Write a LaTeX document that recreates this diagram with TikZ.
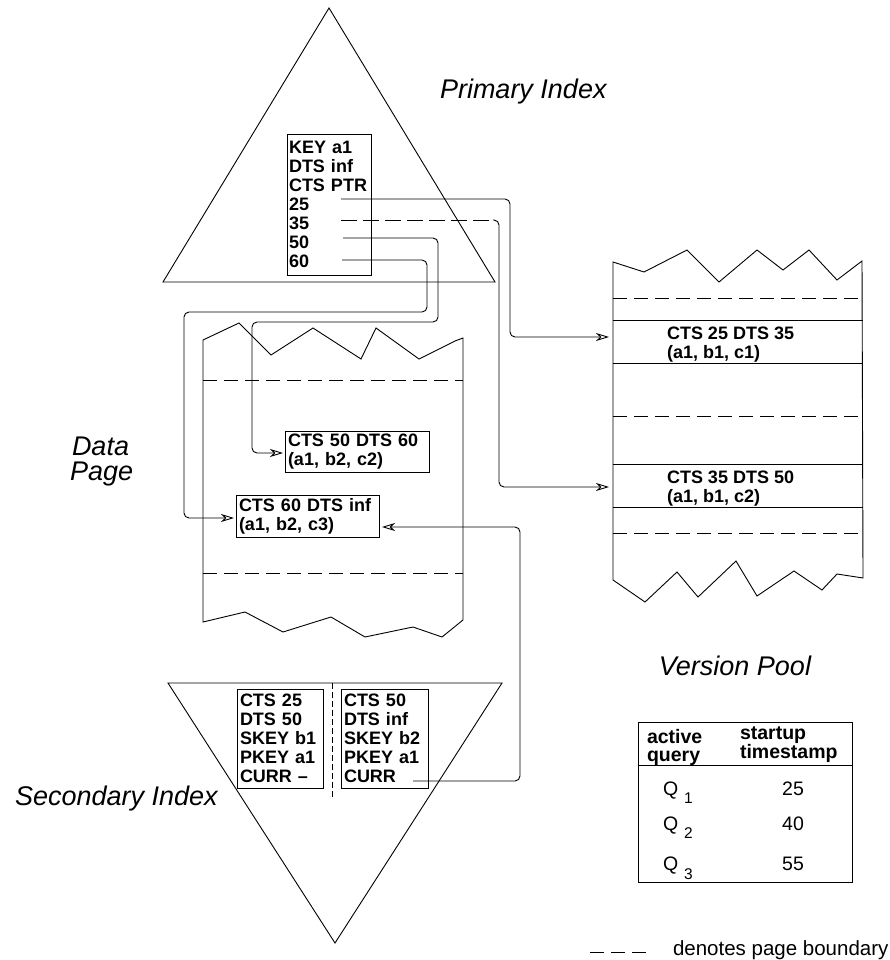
\documentclass[tikz,border=0pt]{standalone}
\usepackage{fontspec}
\setmainfont{Liberation Sans}
\usetikzlibrary{arrows.meta,calc}

\newcommand{\recfont}{\fontsize{18}{19}\selectfont\bfseries}
\newcommand{\lblfont}{\fontsize{27}{26}\selectfont\itshape}

\begin{document}
\begin{tikzpicture}[x=1pt,y=-1pt,line width=0.9pt,
  every node/.style={inner sep=0pt,outer sep=0pt},
  recbox/.style={draw,line width=0.9pt,anchor=north west,font=\recfont,
    align=left,inner xsep=3pt,inner ysep=0pt},
  rectext/.style={anchor=north west,font=\recfont,align=left},
  lbl/.style={font=\lblfont,anchor=base west},
  ptr/.style={rounded corners=5pt,-{Stealth[open,length=13pt,width=8pt,inset=4pt]}},
  pagedash/.style={dash pattern=on 14pt off 7pt},
  hdr/.style={anchor=north west,font=\fontsize{19.5}{18}\selectfont\bfseries,align=left},
  cell/.style={anchor=base west,font=\fontsize{19.5}{20}\selectfont},
  num/.style={anchor=base,font=\fontsize{19.5}{20}\selectfont}]

\useasboundingbox (0,0) rectangle (890,960);

% ---------- primary index ----------
\draw (329,8) -- (495,282) -- (163,282) -- cycle;
\node[recbox,minimum width=84pt,minimum height=141pt,text width=80pt,inner xsep=2pt] (key) at (287,134)
  {KEY a1\\DTS inf\\CTS PTR\\25\\35\\50\\60};
\node[lbl] (plabel) at (440,99) {Primary Index};

% ---------- data page ----------
\draw (203,340) -- (239,323) -- (271,355) -- (313,328) -- (361,359) -- (376,328)
  -- (419,359) -- (455,341) -- (463,338) -- (463,620) -- (442,637) -- (413,627)
  -- (365,637) -- (331,617) -- (283,632) -- (245,612) -- (203,622) -- cycle;
\draw[pagedash] (203,380) -- (463,380);
\draw[pagedash] (203,573) -- (463,573);
\node[recbox,minimum width=144pt,minimum height=41pt,text width=138pt] (d50) at (285,431)
  {CTS 50 DTS 60\\(a1, b2, c2)};
\node[recbox,minimum width=143pt,minimum height=42pt,text width=137pt] (d60) at (236,495)
  {CTS 60 DTS inf\\(a1, b2, c3)};
\node[lbl] (dlabel1) at (72,455) {Data};
\node[lbl] (dlabel2) at (70,480) {Page};

% ---------- version pool ----------
\draw (613,262) -- (644,272) -- (687,250) -- (719,282) -- (757,250) -- (783,270)
  -- (809,250) -- (837,280) -- (862,261) -- (863,578) -- (837,574) -- (822,590)
  -- (794,571) -- (757,596) -- (736,561) -- (698,597) -- (677,572) -- (645,602)
  -- (613,580) -- cycle;
\draw[pagedash] (613,298) -- (863,298);
\draw (613,320) -- (863,320);
\draw (613,363) -- (863,363);
\draw[pagedash] (613,416) -- (863,416);
\draw (613,464) -- (863,464);
\draw (613,507) -- (863,507);
\draw[pagedash] (613,533) -- (863,533);
\node[rectext] (v1) at (667,327) {CTS 25 DTS 35\\(a1, b1, c1)};
\node[rectext] (v2) at (667,471) {CTS 35 DTS 50\\(a1, b1, c2)};
\node[lbl,anchor=base] (vlabel) at (735,675) {Version Pool};

% ---------- secondary index ----------
\draw (168,683) -- (502,683) -- (335,943) -- cycle;
\draw[dash pattern=on 6pt off 3pt] (332,683) -- (332,797);
\node[recbox,minimum width=86pt,minimum height=99pt,text width=80pt] (s1) at (237,689)
  {CTS 25\\DTS 50\\SKEY b1\\PKEY a1\\CURR --};
\node[recbox,minimum width=87pt,minimum height=99pt,text width=81pt] (s2) at (341,689)
  {CTS 50\\DTS inf\\SKEY b2\\PKEY a1\\CURR};
\node[lbl] (slabel) at (15,805) {Secondary Index};

% ---------- pointers ----------
\coordinate (k25) at (341,199);
\coordinate (k35) at (341,220);
\coordinate (k50) at (343,238);
\coordinate (k60) at (342,260);
\coordinate (curr) at (413,781);
\coordinate (v1in) at (609,337);
\coordinate (v2in) at (609,487);
\coordinate (d50in) at (283,453);
\coordinate (d60w) at (234,518);
\coordinate (d60e) at (382,527);

\draw[ptr] (k25) -- (510,199) -- (510,337) -- (v1in);
\draw[dash pattern=on 16pt off 6pt] (k35) -- (493,220);
\draw[ptr] (493,220) -- (499,220) -- (499,487) -- (v2in);
\draw[ptr] (k50) -- (438,238) -- (438,322) -- (252,322) -- (252,453) -- (d50in);
\draw[ptr] (k60) -- (427,260) -- (427,312) -- (184,312) -- (184,518) -- (d60w);
\draw[ptr] (curr) -- (520,781) -- (520,527) -- (d60e);

% ---------- active query table ----------
\node[draw,anchor=north west,minimum width=214pt,minimum height=160pt] (tbl) at (638,722) {};
\draw (tbl.west |- 0,765) -- (tbl.east |- 0,765);
\node[hdr] (h1) at (647,729) {active\\query};
\node[hdr] (h2) at (740,727) {startup\\timestamp};
\node[cell] (q1) at (663,795) {Q\hspace{6pt}\raisebox{-8pt}{\fontsize{15.5}{15}\selectfont 1}};
\node[cell] (q2) at (663,830) {Q\hspace{6pt}\raisebox{-8pt}{\fontsize{15.5}{15}\selectfont 2}};
\node[cell] (q3) at (663,870) {Q\hspace{6pt}\raisebox{-9pt}{\fontsize{15.5}{15}\selectfont 3}};
\node[num] (t1) at (793,795) {25};
\node[num] (t2) at (793,830) {40};
\node[num] (t3) at (793,870) {55};

% ---------- legend ----------
\coordinate (lg1) at (590,952);
\coordinate (lg2) at (648,952);
\draw[pagedash] (lg1) -- (lg2);
\node[anchor=base west,font=\fontsize{20.5}{22}\selectfont] (legend) at (673,955) {denotes page boundary};

\end{tikzpicture}
\end{document}
